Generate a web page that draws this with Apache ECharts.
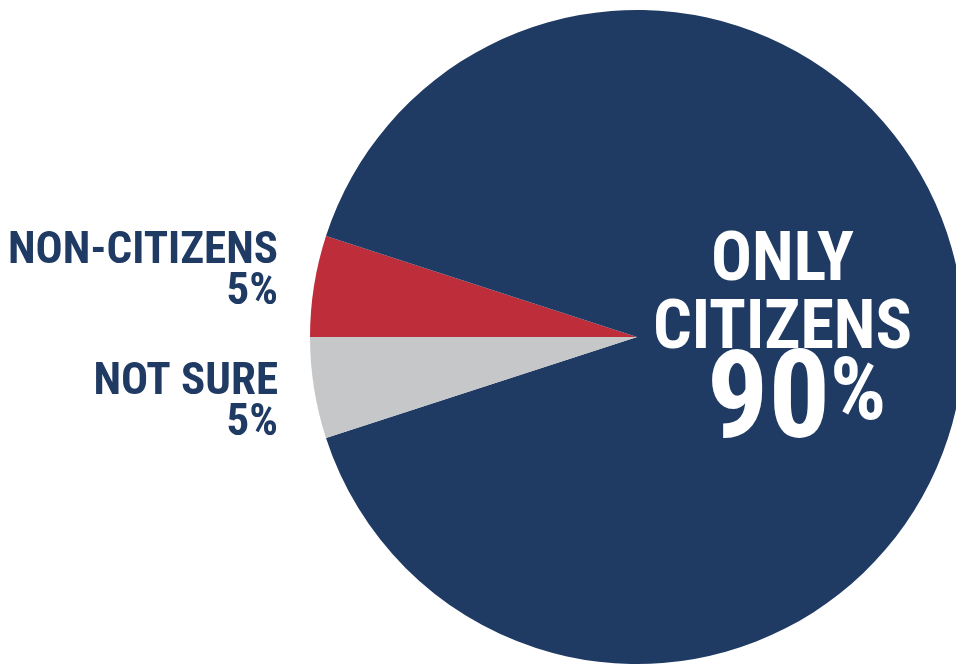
<!DOCTYPE html>
<html><head><meta charset="utf-8">
<script src="https://cdn.jsdelivr.net/npm/echarts@6/dist/echarts.min.js"></script>
<style>html,body{margin:0;padding:0;background:#fff}#c{width:956px;height:664px}</style>
</head><body><div id="c"></div>
<script>
const categories = ['NON-CITIZENS', 'ONLY CITIZENS', 'NOT SURE'];
const values = [5, 90, 5];
const colors = ['#BE2E3A', '#1F3A63', '#C6C7C9'];
const FONT = '"Roboto Condensed", "Liberation Sans Narrow", "Arial Narrow", "DejaVu Sans Condensed", sans-serif';
const chart = echarts.init(document.getElementById('c'), null, {renderer: 'canvas'});
const data = categories.map((name, i) => {
  const item = {name, value: values[i], itemStyle: {color: colors[i]}};
  if (i === 1) {
    item.label = {
      position: 'inside',
      offset: [-21, 1],
      overflow: 'none',
      formatter: p => '{a|ONLY}\n{a|CITIZENS}\n{b|' + p.value + '}{c|%}',
      rich: {
        a: {fontFamily: FONT, fontWeight: 'bold', fontSize: 68, lineHeight: 68, color: '#fff'},
        b: {fontFamily: FONT, fontWeight: 'bold', fontSize: 122, lineHeight: 82, color: '#fff', padding: [0, 0, 0, 28]},
        c: {fontFamily: FONT, fontWeight: 'bold', fontSize: 88, lineHeight: 64, color: '#fff', padding: [0, 0, 18, 0]}
      }
    };
  } else {
    item.label = {
      position: 'outside',
      overflow: 'none',
      formatter: p => '{n|' + p.name + '}\n{n|' + p.value + '%}',
      rich: {
        n: {fontFamily: FONT, fontWeight: 'bold', fontSize: 45, lineHeight: 41, color: '#1F3A63', align: 'right'}
      }
    };
    item.labelLine = {show: false};
  }
  return item;
});
chart.setOption({
  animation: false,
  series: [{
    type: 'pie',
    center: [637, 337],
    radius: [0, 327],
    startAngle: 180,
    clockwise: true,
    silent: true,
    data: data,
    labelLayout: function (params) {
      if (params.dataIndex === 0) return {x: 278, y: 272, align: 'right', verticalAlign: 'middle'};
      if (params.dataIndex === 2) return {x: 278, y: 403, align: 'right', verticalAlign: 'middle'};
      return {};
    }
  }]
});
</script></body></html>
